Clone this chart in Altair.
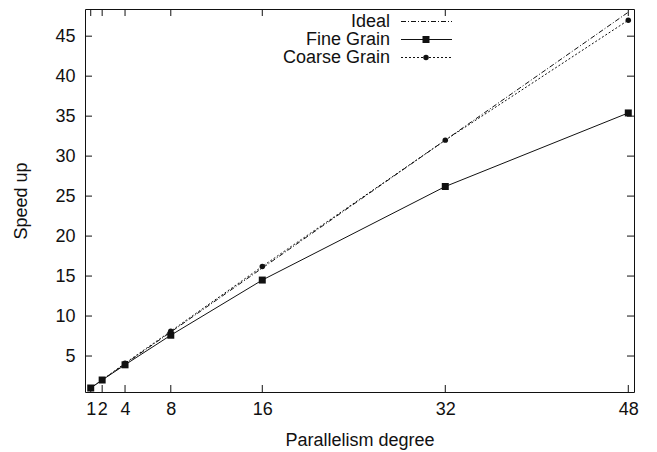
import altair as alt
import pandas as pd

degrees = [1, 2, 4, 8, 16, 32, 48]
ideal = [1, 2, 4, 8, 16, 32, 48]
fine = [1, 2, 3.9, 7.6, 14.5, 26.2, 35.4]
coarse = [1, 2, 4.1, 8.1, 16.2, 32.0, 47.0]
y_ticks = [5, 10, 15, 20, 25, 30, 35, 40, 45]
legend_labels = ["Ideal", "Fine Grain", "Coarse Grain"]

W, H = 549, 383
FONT = "Liberation Sans"
INK = "#111111"

xs = alt.Scale(domain=[0.5, 48.5], nice=False, zero=False)
ys = alt.Scale(domain=[0.5, 48.4], nice=False, zero=False)

df = pd.DataFrame({"x": degrees, "ideal": ideal, "fine": fine, "coarse": coarse})
base = alt.Chart(df)

x_axis = alt.Axis(values=degrees, title="Parallelism degree", labelOverlap=False,
                  labelPadding=8, titlePadding=13, format="d")
y_axis = alt.Axis(values=y_ticks, title="Speed up", labelPadding=10, titlePadding=24)


def X(f):
    return alt.X(f, scale=xs, axis=x_axis)


def Y(f):
    return alt.Y(f, scale=ys, axis=y_axis)


ideal_line = base.mark_line(color=INK, strokeWidth=1, strokeDash=[5, 2, 1, 2]).encode(
    x=X("x:Q"), y=Y("ideal:Q"))
fine_line = base.mark_line(color=INK, strokeWidth=1).encode(x=X("x:Q"), y=Y("fine:Q"))
fine_pts = base.mark_point(shape="square", filled=True, size=49, color=INK, opacity=1).encode(
    x=X("x:Q"), y=Y("fine:Q"))
coarse_line = base.mark_line(color=INK, strokeWidth=1, strokeDash=[2, 2]).encode(
    x=X("x:Q"), y=Y("coarse:Q"))
coarse_pts = base.mark_point(shape="circle", filled=True, size=30, color=INK, opacity=1).encode(
    x=X("x:Q"), y=Y("coarse:Q"))

# inward ticks (gnuplot style) on all four sides
xt = alt.Chart(pd.DataFrame({"v": degrees}))
yt = alt.Chart(pd.DataFrame({"v": y_ticks}))
TL = 7
ticks = [
    xt.mark_rule(color=INK).encode(x=X("v:Q"), y=alt.value(H), y2=alt.value(H - TL)),
    xt.mark_rule(color=INK).encode(x=X("v:Q"), y=alt.value(0), y2=alt.value(TL)),
    yt.mark_rule(color=INK).encode(y=Y("v:Q"), x=alt.value(0), x2=alt.value(TL)),
    yt.mark_rule(color=INK).encode(y=Y("v:Q"), x=alt.value(W - TL), x2=alt.value(W)),
]

# legend (top-right, inside)
rows = [12.5, 30.5, 48.5]
TX, L0, L1, MX = 305, 316, 367, 341
leg = []
dashes = [[5, 2, 1, 2], None, [2, 2]]
for i, lab in enumerate(legend_labels):
    c = alt.Chart(pd.DataFrame({"label": [lab]}))
    leg.append(c.mark_text(align="right", baseline="middle", font=FONT, fontSize=18, color=INK).encode(
        x=alt.value(TX), y=alt.value(rows[i]), text="label:N"))
    kw = {"color": INK, "strokeWidth": 1}
    if dashes[i]:
        kw["strokeDash"] = dashes[i]
    leg.append(c.mark_rule(**kw).encode(x=alt.value(L0), x2=alt.value(L1), y=alt.value(rows[i])))
leg.append(alt.Chart(pd.DataFrame({"label": [legend_labels[1]]})).mark_point(
    shape="square", filled=True, size=49, color=INK, opacity=1).encode(x=alt.value(MX), y=alt.value(rows[1])))
leg.append(alt.Chart(pd.DataFrame({"label": [legend_labels[2]]})).mark_point(
    shape="circle", filled=True, size=30, color=INK, opacity=1).encode(x=alt.value(MX), y=alt.value(rows[2])))

chart = alt.layer(ideal_line, fine_line, fine_pts, coarse_line, coarse_pts, *ticks, *leg).properties(
    width=W, height=H,
    background="white",
    autosize=alt.AutoSizeParams(type="none"),
    padding={"left": 77, "top": 1, "right": 5, "bottom": 58},
).configure_view(stroke=INK, strokeWidth=1).configure_axis(
    grid=False, ticks=False, domain=False,
    labelFont=FONT, labelFontSize=18, labelColor=INK,
    titleFont=FONT, titleFontSize=18, titleFontWeight="normal", titleColor=INK,
)

chart.save("out.html", embed_options={"renderer": "svg", "actions": False})
